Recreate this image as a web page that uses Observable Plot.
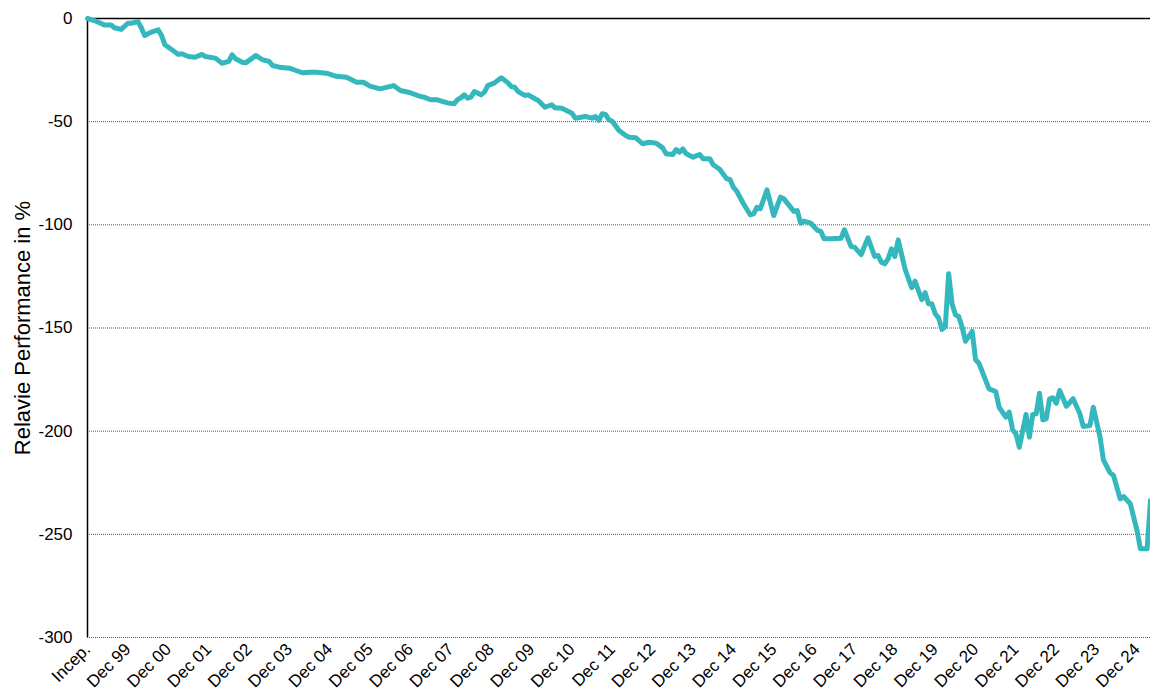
<!DOCTYPE html>
<html><head><meta charset="utf-8">
<script src="https://cdn.jsdelivr.net/npm/d3@7"></script>
<script src="https://cdn.jsdelivr.net/npm/@observablehq/plot@0.6"></script>
<style>body{margin:0;background:#fff;}</style>
</head><body><div id="chart"></div>
<script>
// months since inception (Dec 1998)
const months = [
  0,2,5,7,8,10,12,13,15,16,17,19,21,22,23,25,27,28,30,32,
  34,35,38,40,42,43,44,46,47,49,50,52,54,55,57,60,62,64,66,68,
  71,74,77,80,82,84,87,91,93,96,99,100,102,104,107,109,110,111,112,113,
  114,115,117,118,119,121,123,125,126,127,128,130,131,133,134,136,138,139,141,143,
  144,145,148,150,151,152,153,154,155,156,158,160,161,163,165,167,169,171,172,174,
  175,176,177,178,180,182,183,185,186,188,190,191,192,193,195,197,198,199,200,202,
  204,206,207,210,211,212,213,215,217,218,219,221,224,225,227,228,230,232,234,235,
  236,237,238,239,240,241,243,245,246,248,249,250,251,252,253,254,255,256,257,258,
  259,260,261,263,264,265,267,268,270,271,273,274,275,276,277,279,280,281,282,283,
  284,285,286,287,288,289,291,293,295,296,298,299,301,302,304,305,307,308,310,312,
  313,315,316
];
const values = [
  0,-1.0,-3.1,-3.1,-4.5,-5.3,-2.3,-2.3,-1.5,-4.5,-8.2,-6.6,-5.5,-8.2,-12.7,-15.0,-17.4,-17.1,-18.4,-18.8,
  -17.4,-18.4,-19.2,-21.7,-20.8,-17.6,-19.5,-21.2,-21.5,-19.2,-17.9,-20.0,-20.8,-22.8,-23.6,-24.1,-25.2,-26.3,-26.0,-26.0,
  -26.5,-28.0,-28.5,-30.9,-30.9,-32.8,-34.1,-32.5,-34.9,-36.0,-37.8,-38.1,-39.4,-39.4,-40.9,-41.3,-39.3,-38.4,-37.0,-38.6,
  -38.1,-35.4,-37.0,-35.7,-32.5,-31.2,-28.7,-31.2,-33.0,-33.3,-35.4,-37.3,-37.0,-38.9,-39.7,-43.0,-41.8,-43.3,-43.5,-45.1,
  -45.9,-48.3,-47.5,-48.3,-47.5,-49.4,-46.2,-46.5,-49.1,-49.8,-54.3,-56.7,-57.5,-57.8,-60.7,-60.0,-60.4,-62.7,-65.6,-65.9,
  -63.5,-64.8,-63.2,-65.6,-67.2,-65.9,-68.0,-68.0,-70.9,-73.2,-77.7,-78.0,-81.8,-83.7,-89.8,-95.1,-94.7,-91.5,-92.2,-83.0,
  -95.5,-86.6,-87.4,-93.5,-93.1,-99.2,-98.2,-99.2,-102.7,-103.2,-106.8,-106.8,-106.5,-102.4,-110.5,-110.8,-114.4,-106.3,-115.3,-114.9,
  -118.1,-118.9,-116.5,-111.6,-115.3,-107.3,-121.3,-130.5,-127.3,-136.3,-132.9,-138.3,-138.3,-143.1,-145.1,-150.7,-149.3,-123.7,-138.3,-143.6,
  -144.4,-149.6,-156.4,-151.6,-165.4,-167.1,-175.4,-179.5,-180.8,-188.4,-193.2,-190.8,-199.3,-201.3,-207.8,-191.9,-202.9,-191.9,-191.6,-181.6,
  -194.5,-194.0,-184.3,-183.8,-186.5,-180.3,-187.9,-184.3,-191.6,-197.7,-197.3,-188.4,-202.9,-213.9,-220.2,-221.5,-232.8,-231.7,-235.2,-248.2,
  -257.0,-257.0,-233.6
];
const tickMonths = [0,12,24,36,48,60,72,84,96,108,120,132,144,156,168,180,192,204,216,228,240,252,264,276,288,300,312];
const tickLabels = ["Incep.","Dec 99","Dec 00","Dec 01","Dec 02","Dec 03","Dec 04","Dec 05","Dec 06","Dec 07","Dec 08","Dec 09","Dec 10","Dec 11","Dec 12","Dec 13","Dec 14","Dec 15","Dec 16","Dec 17","Dec 18","Dec 19","Dec 20","Dec 21","Dec 22","Dec 23","Dec 24"];
const yTicks = [0,-50,-100,-150,-200,-250,-300];
const yLabel = "Relavie Performance in %";

const data = months.map((m, i) => ({m, v: values[i]}));

const chart = Plot.plot({
  width: 1150, height: 699,
  marginLeft: 87, marginTop: 18, marginRight: 0, marginBottom: 62,
  style: {fontFamily: "'Liberation Sans', Arial, sans-serif", fontSize: "17px", color: "#000", background: "#fff", overflow: "visible"},
  x: {domain: [0, 316], axis: null},
  y: {domain: [-300, 0], axis: null},
  marks: [
    Plot.ruleY(yTicks.filter(t => t !== 0), {stroke: "#555", strokeDasharray: "1,1", strokeWidth: 1}),
    Plot.ruleY([0], {stroke: "#000", strokeWidth: 1.5}),
    Plot.ruleX([0], {stroke: "#000", strokeWidth: 1.5}),
    Plot.line(data, {x: "m", y: "v", stroke: "#34b8bd", strokeWidth: 5, strokeLinejoin: "round", strokeLinecap: "round"}),
    Plot.axisY({ticks: yTicks, tickSize: 0, tickPadding: 15, fontSize: 17, label: null, tickFormat: d => String(d)}),
    Plot.axisX({ticks: tickMonths, tickFormat: d => tickLabels[tickMonths.indexOf(d)], tickRotate: -45, tickSize: 0, tickPadding: 9, fontSize: 17, label: null}),
    Plot.text([yLabel], {text: d => d, frameAnchor: "left", textAnchor: "middle", dx: -65, rotate: -90, fontSize: 22})
  ]
});
document.getElementById("chart").appendChild(chart);
</script>
</body></html>
